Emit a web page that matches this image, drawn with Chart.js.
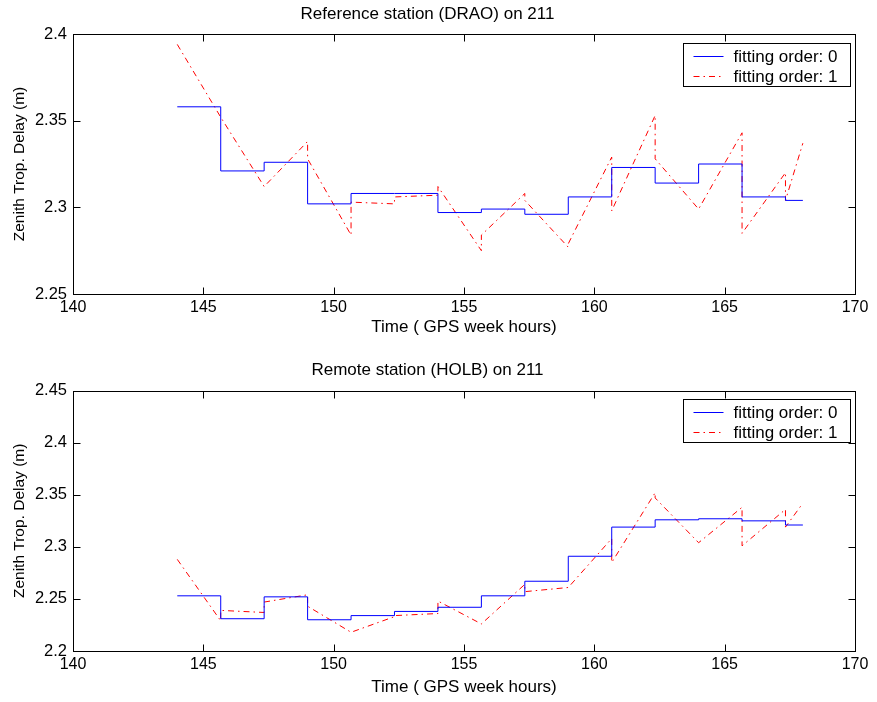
<!DOCTYPE html>
<html>
<head>
<meta charset="utf-8">
<script src="https://cdn.jsdelivr.net/npm/chart.js@4.4.1/dist/chart.umd.min.js"></script>
<style>
  body { margin: 0; background: #fff; }
  #wrap { position: relative; width: 877px; height: 702px; }
  .panel { position: absolute; left: 0; width: 877px; height: 351px; }
</style>
</head>
<body>
<div id="wrap">
  <div class="panel" style="top:0"><canvas id="draoChart" width="877" height="351"></canvas></div>
  <div class="panel" style="top:351px"><canvas id="holbChart" width="877" height="351"></canvas></div>
</div>
<script>
// segment boundaries (GPS week hours)
const hours = [144, 145.667, 147.333, 149, 150.667, 152.333, 154, 155.667, 157.333, 159, 160.667, 162.333, 164, 165.667, 167.333, 168];
const xTicks = [140, 145, 150, 155, 160, 165, 170];

// reference station DRAO
const draoOrder0 = [2.358, 2.321, 2.326, 2.302, 2.308, 2.308, 2.297, 2.299, 2.296, 2.306, 2.323, 2.314, 2.325, 2.306, 2.304];
const draoOrder1Start = [2.394, 2.352, 2.312, 2.328, 2.303, 2.306, 2.312, 2.284, 2.304, 2.279, 2.298, 2.328, 2.299, 2.285, 2.304];
const draoOrder1End = [2.352, 2.312, 2.338, 2.284, 2.302, 2.307, 2.275, 2.308, 2.277, 2.329, 2.353, 2.299, 2.343, 2.320, 2.337];
const draoYTicks = [2.25, 2.3, 2.35, 2.4];

// remote station HOLB
const holbOrder0 = [2.253, 2.231, 2.252, 2.230, 2.234, 2.238, 2.242, 2.253, 2.267, 2.291, 2.319, 2.326, 2.327, 2.325, 2.321];
const holbOrder1Start = [2.288, 2.239, 2.247, 2.243, 2.218, 2.234, 2.248, 2.226, 2.257, 2.261, 2.285, 2.347, 2.304, 2.301, 2.319];
const holbOrder1End = [2.229, 2.237, 2.254, 2.218, 2.233, 2.236, 2.226, 2.264, 2.261, 2.308, 2.352, 2.304, 2.338, 2.336, 2.342];
const holbYTicks = [2.2, 2.25, 2.3, 2.35, 2.4, 2.45];

const FONT = '"Liberation Sans", Arial, Helvetica, sans-serif';
Chart.defaults.font.family = FONT;
Chart.defaults.color = '#000';

// box round the plot + inward tick marks on all four sides
const matlabAxes = {
  id: 'matlabAxes',
  afterDatasetsDraw(chart) {
    const ctx = chart.ctx;
    const a = chart.chartArea;
    const L = Math.round(a.left) + 0.5, R = Math.round(a.right) + 0.5;
    const T = Math.round(a.top) + 0.5, B = Math.round(a.bottom) + 0.5;
    const len = 7;
    ctx.save();
    ctx.strokeStyle = '#000';
    ctx.lineWidth = 1;
    ctx.setLineDash([]);
    ctx.beginPath();
    chart.scales.x.ticks.forEach(t => {
      const px = Math.round(chart.scales.x.getPixelForValue(t.value)) + 0.5;
      ctx.moveTo(px, B); ctx.lineTo(px, B - len);
      ctx.moveTo(px, T); ctx.lineTo(px, T + len);
    });
    chart.scales.y.ticks.forEach(t => {
      const py = Math.round(chart.scales.y.getPixelForValue(t.value)) + 0.5;
      ctx.moveTo(L, py); ctx.lineTo(L + len, py);
      ctx.moveTo(R, py); ctx.lineTo(R - len, py);
    });
    ctx.stroke();
    ctx.strokeRect(L, T, R - L, B - T);
    ctx.restore();
  }
};

// framed legend in the top right corner
const boxLegend = {
  id: 'boxLegend',
  afterDraw(chart) {
    const ctx = chart.ctx;
    const a = chart.chartArea;
    const w = 167, h = 43;
    const x0 = Math.round(a.right - 5 - w) + 0.5;
    const y0 = Math.round(a.top + 8.5) + 0.5;
    ctx.save();
    ctx.fillStyle = '#fff';
    ctx.fillRect(x0, y0, w, h);
    ctx.strokeStyle = '#000';
    ctx.lineWidth = 1;
    ctx.setLineDash([]);
    ctx.strokeRect(x0, y0, w, h);
    ctx.font = '17px ' + FONT;
    ctx.textBaseline = 'middle';
    chart.data.datasets.forEach((ds, i) => {
      const cy = Math.round(y0 + 12 + i * 20) + 0.5;
      ctx.strokeStyle = ds.borderColor;
      ctx.setLineDash(ds.borderDash || []);
      ctx.beginPath();
      ctx.moveTo(x0 + 10, cy);
      ctx.lineTo(x0 + 40, cy);
      ctx.stroke();
      ctx.fillStyle = '#000';
      ctx.fillText(ds.label, x0 + 50, cy + 1);
    });
    ctx.restore();
  }
};

function stepPoints(values) {
  var pts = [];
  for (var i = 0; i < values.length; i++) pts.push({ x: hours[i], y: values[i] });
  pts.push({ x: hours[hours.length - 1], y: values[values.length - 1] });
  return pts;
}

function linePoints(starts, ends) {
  var pts = [];
  for (var i = 0; i < starts.length; i++) {
    pts.push({ x: hours[i], y: starts[i] });
    pts.push({ x: hours[i + 1], y: ends[i] });
  }
  return pts;
}

function makeChart(id, title, order0, starts, ends, yTicks, lay) {
  return new Chart(id, {
    type: 'line',
    data: {
      datasets: [{
        label: 'fitting order: 0',
        data: stepPoints(order0),
        stepped: 'before',
        borderColor: '#0000ff',
        borderWidth: 1,
        pointRadius: 0,
        fill: false
      }, {
        label: 'fitting order: 1',
        data: linePoints(starts, ends),
        borderColor: '#ff0000',
        borderDash: [6, 4, 1.5, 4],
        borderWidth: 1,
        pointRadius: 0,
        tension: 0,
        fill: false
      }]
    },
    options: {
      responsive: false,
      animation: false,
      events: [],
      layout: { padding: { left: 0, right: 22, top: 0, bottom: 0 } },
      plugins: {
        legend: { display: false },
        tooltip: { enabled: false },
        title: {
          display: true,
          text: title,
          color: '#000',
          font: { size: 17, weight: 'normal', lineHeight: 1.2 },
          padding: { top: lay.titleTop, bottom: lay.titleBottom }
        }
      },
      scales: {
        x: {
          type: 'linear',
          min: 140,
          max: 170,
          afterBuildTicks: s => { s.ticks = xTicks.map(v => ({ value: v })); },
          afterFit: s => { s.height = lay.xHeight; },
          grid: { display: false, drawTicks: false },
          border: { display: false },
          ticks: { font: { size: 16 }, padding: 4, maxRotation: 0, autoSkip: false, callback: v => String(v) },
          title: { display: true, text: 'Time ( GPS week hours)', font: { size: 17 }, padding: { top: 0, bottom: lay.xTitleBottom } }
        },
        y: {
          min: yTicks[0],
          max: yTicks[yTicks.length - 1],
          afterBuildTicks: s => { s.ticks = yTicks.map(v => ({ value: v })); },
          afterFit: s => { s.width = 73; },
          grid: { display: false, drawTicks: false },
          border: { display: false },
          ticks: { font: { size: 16.5 }, padding: 6, autoSkip: false, callback: v => String(v) },
          title: { display: true, text: 'Zenith Trop. Delay (m)', font: { size: 15.5 }, padding: { top: 10.4, bottom: 0 } }
        }
      }
    },
    plugins: [matlabAxes, boxLegend]
  });
}

let draoChart = makeChart('draoChart', 'Reference station (DRAO) on 211',
  draoOrder0, draoOrder1Start, draoOrder1End, draoYTicks,
  { titleTop: 4, titleBottom: 9.6, xHeight: 57, xTitleBottom: 13.4 });

let holbChart = makeChart('holbChart', 'Remote station (HOLB) on 211',
  holbOrder0, holbOrder1Start, holbOrder1End, holbYTicks,
  { titleTop: 8.8, titleBottom: 10.5, xHeight: 51, xTitleBottom: 4.4 });
</script>
</body>
</html>
